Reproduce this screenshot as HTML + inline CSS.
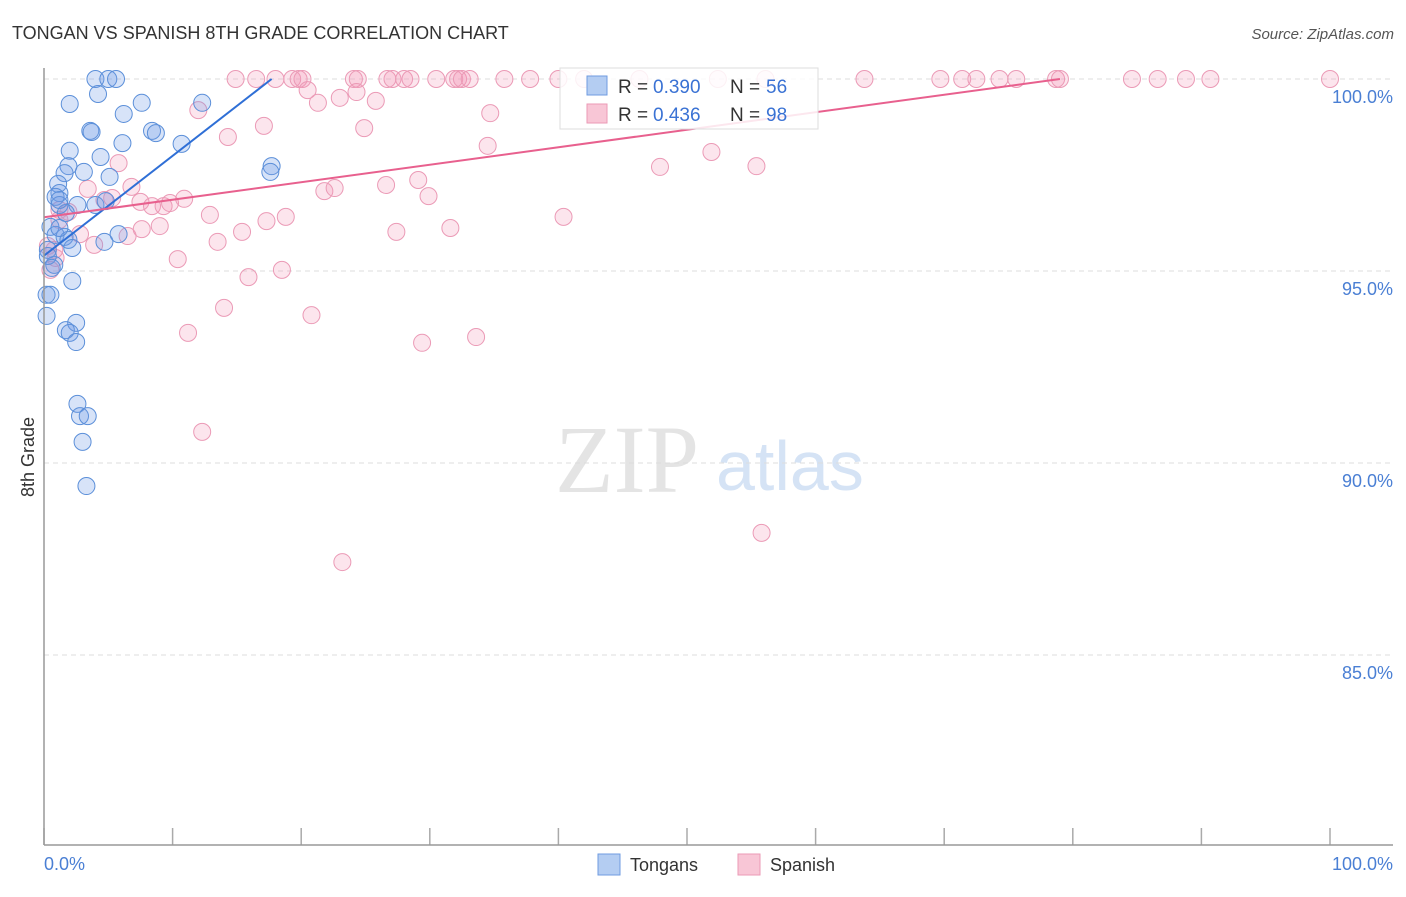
<!DOCTYPE html>
<html><head><meta charset="utf-8"><style>
body{margin:0;background:#fff;font-family:"Liberation Sans",sans-serif}
</style></head><body>
<svg id="c" width="1406" height="892" xmlns="http://www.w3.org/2000/svg">
<text x="12" y="39" font-size="18" fill="#333">TONGAN VS SPANISH 8TH GRADE CORRELATION CHART</text>
<text x="1394" y="39" font-size="15" fill="#555" font-style="italic" text-anchor="end">Source: ZipAtlas.com</text>
<text x="555" y="492" font-size="96" fill="#e4e4e4" font-family="Liberation Serif,serif">ZIP</text>
<text x="716" y="490" font-size="70" fill="#d5e3f5">atlas</text>
<text transform="translate(34,457) rotate(-90)" font-size="18" fill="#333" text-anchor="middle">8th Grade</text>
<g id="grid"></g><g id="pts"></g><g id="trend"></g>
<line x1="44" y1="68" x2="44" y2="845" stroke="#999" stroke-width="1.5"/>
<line x1="44" y1="845" x2="1393" y2="845" stroke="#999" stroke-width="1.5"/>
<text x="44" y="870" font-size="18" fill="#4a7fd4">0.0%</text>
<text x="1393" y="870" font-size="18" fill="#4a7fd4" text-anchor="end">100.0%</text>
<g>
<rect x="560" y="68" width="258" height="61" fill="#fff" fill-opacity="0.85" stroke="#ddd"/>
<rect x="587" y="76" width="20" height="19" fill="#b4cdf2" stroke="#6f9be0"/>
<rect x="587" y="104" width="20" height="19" fill="#f8c6d6" stroke="#eb9ab6"/>
<text x="618" y="93" font-size="19" fill="#333">R =</text>
<text x="653" y="93" font-size="19" fill="#3a72d4">0.390</text>
<text x="730" y="93" font-size="19" fill="#333">N =</text>
<text x="766" y="93" font-size="19" fill="#3a72d4">56</text>
<text x="618" y="121" font-size="19" fill="#333">R =</text>
<text x="653" y="121" font-size="19" fill="#3a72d4">0.436</text>
<text x="730" y="121" font-size="19" fill="#333">N =</text>
<text x="766" y="121" font-size="19" fill="#3a72d4">98</text>
</g>
<g><rect x="598" y="854" width="22" height="21" fill="#b4cdf2" stroke="#6f9be0"/><text x="630" y="871" font-size="18" fill="#333">Tongans</text></g>
<g><rect x="738" y="854" width="22" height="21" fill="#f8c6d6" stroke="#eb9ab6"/><text x="770" y="871" font-size="18" fill="#333">Spanish</text></g>
</svg>
<script>
const yTicks=[100,95,90,85];
const yTickLabels=["100.0%","95.0%","90.0%","85.0%"];
const xTicks=[0,10,20,30,40,50,60,70,80,90,100];
const tonganX=[4.0,5.0,5.6,4.2,2.0,7.6,6.2,12.3,3.6,3.7,8.4,8.7,6.1,10.7,2.0,4.4,1.9,3.1,1.6,1.1,5.1,17.7,17.6,1.2,0.9,1.2,4.0,2.6,4.8,0.5,0.9,1.6,1.9,4.7,5.8,2.2,0.3,0.8,2.2,0.2,0.5,0.2,2.5,1.7,2.0,2.5,2.6,2.8,3.4,3.0,3.3,1.2,1.7,0.3,0.6,1.2];
const tonganY=[100,100,100,99.61,99.35,99.38,99.09,99.38,98.65,98.62,98.65,98.59,98.33,98.31,98.13,97.97,97.73,97.58,97.55,97.27,97.45,97.73,97.58,97.03,96.93,96.72,96.72,96.72,96.82,96.15,95.94,95.89,95.81,95.76,95.96,95.60,95.55,95.16,94.74,94.38,94.38,93.83,93.65,93.46,93.39,93.15,91.54,91.22,91.22,90.55,89.40,96.12,96.51,95.39,95.08,96.85];
const spanishX=[14.9,16.5,18.0,19.3,19.8,20.1,24.1,24.4,26.7,27.1,28.0,28.5,30.5,31.9,32.2,32.5,33.1,35.8,37.8,40.0,42.0,46.3,52.4,56.1,63.8,69.7,71.4,72.5,74.3,75.6,78.7,79.0,84.6,86.6,88.8,90.7,100,
12.0,14.3,20.5,21.3,23.0,24.3,25.8,17.1,24.9,34.7,34.5,51.9,55.4,47.9,5.8,6.8,3.4,4.7,5.3,7.5,8.4,9.3,9.8,10.9,1.2,1.9,1.2,2.8,6.5,7.6,9.0,12.9,15.4,17.3,18.8,21.8,22.6,26.6,29.1,29.9,27.4,31.6,40.4,3.9,13.5,10.4,15.9,18.5,0.9,0.5,14.0,11.2,20.8,29.4,33.6,12.3,23.2,55.8,0.3,0.8];
const spanishY=[100,100,100,100,100,100,100,100,100,100,100,100,100,100,100,100,100,100,100,100,100,100,100,100,100,100,100,100,100,100,100,100,100,100,100,100,100,
99.19,98.49,99.71,99.38,99.51,99.66,99.43,98.78,98.72,99.11,98.26,98.10,97.73,97.71,97.81,97.19,97.14,96.85,96.90,96.80,96.69,96.69,96.77,96.88,96.59,96.54,96.33,95.96,95.91,96.09,96.17,96.46,96.02,96.30,96.41,97.08,97.16,97.24,97.37,96.95,96.02,96.12,96.41,95.68,95.76,95.31,94.84,95.03,95.34,95.03,94.04,93.39,93.85,93.13,93.28,90.81,87.42,88.18,95.65,95.55];
const tonganTrendX=[0,17.7];
const tonganTrendY=[95.4,100];
const spanishTrendX=[0,79];
const spanishTrendY=[96.4,100];
const sx=v=>44+v*12.86;
const sy=v=>79+(100-v)*38.4;
const NS="http://www.w3.org/2000/svg";
function mk(t,a,p){const e=document.createElementNS(NS,t);for(const k in a)e.setAttribute(k,a[k]);p.appendChild(e);return e;}
const grid=document.getElementById('grid');
yTicks.forEach((t,i)=>{
 const l=mk('line',{x1:44,x2:1393,y1:sy(t),y2:sy(t),stroke:'#ddd','stroke-dasharray':'5,4'},grid);
 
 
 const tx=mk('text',{x:1393,y:sy(t)+24,'font-size':18,fill:'#4a7fd4','text-anchor':'end'},grid);
 tx.textContent=yTickLabels[i];
 
 
});
xTicks.forEach(t=>{
 const l=mk('line',{x1:sx(t),x2:sx(t),y1:828,y2:845,stroke:'#aaa','stroke-width':1.5},grid);
 
 
});
const pts=document.getElementById('pts');
spanishX.forEach((x,i)=>{
 const c=mk('circle',{cx:sx(x),cy:sy(spanishY[i]),r:8.5,fill:'rgba(242,150,182,0.25)',stroke:'#eb9ab6','stroke-width':1},pts);
 
 
});
tonganX.forEach((x,i)=>{
 const c=mk('circle',{cx:sx(x),cy:sy(tonganY[i]),r:8.5,fill:'rgba(110,155,230,0.28)',stroke:'#5b8fd9','stroke-width':1},pts);
 
 
});
const tr=document.getElementById('trend');
const l1=mk('line',{x1:sx(tonganTrendX[0]),y1:sy(tonganTrendY[0]),x2:sx(tonganTrendX[1]),y2:sy(tonganTrendY[1]),stroke:'#2f6fd6','stroke-width':2},tr);


const l2=mk('line',{x1:sx(spanishTrendX[0]),y1:sy(spanishTrendY[0]),x2:sx(spanishTrendX[1]),y2:sy(spanishTrendY[1]),stroke:'#e8608e','stroke-width':2},tr);


</script>
</body></html>
